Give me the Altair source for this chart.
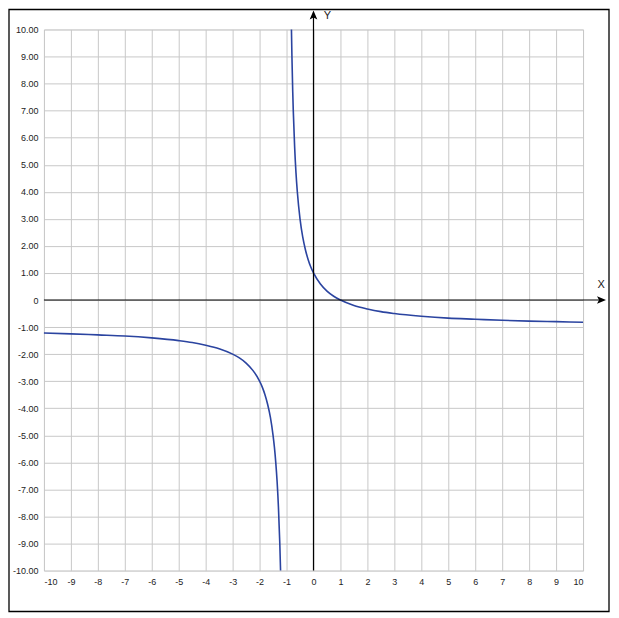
import altair as alt
import pandas as pd

# curve points (two branches around the asymptote x = -1)
left_x = [-10, -9, -8, -7, -6, -5, -4.5, -4, -3.5, -3, -2.75, -2.5, -2.25, -2,
          -1.9, -1.8, -1.7, -1.6, -1.5, -1.45, -1.4, -1.35, -1.3, -1.25, -1.222]
left_y = [-1.22, -1.25, -1.29, -1.33, -1.40, -1.50, -1.57, -1.67, -1.80, -2.00,
          -2.14, -2.33, -2.60, -3.00, -3.22, -3.50, -3.86, -4.33, -5.00, -5.44,
          -6.00, -6.71, -7.67, -9.00, -10.0]
right_x = [-0.818, -0.8, -0.77, -0.75, -0.7, -0.65, -0.6, -0.5, -0.4, -0.3, -0.2,
           -0.1, 0, 0.25, 0.5, 0.75, 1, 1.5, 2, 2.5, 3, 4, 5, 6, 7, 8, 9, 10]
right_y = [10.0, 9.00, 7.70, 7.00, 5.67, 4.71, 4.00, 3.00, 2.33, 1.86, 1.50,
           1.22, 1.00, 0.60, 0.33, 0.14, 0.00, -0.20, -0.33, -0.43, -0.50,
           -0.60, -0.67, -0.71, -0.75, -0.78, -0.80, -0.82]

tick_values = list(range(-10, 11))

curve = pd.DataFrame({
    "x": left_x + right_x,
    "y": left_y + right_y,
    "branch": ["left"] * len(left_x) + ["right"] * len(right_x),
    "order": list(range(len(left_x))) + list(range(len(right_x))),
})

W, H = 540, 542
xs = alt.Scale(domain=[-10, 10], nice=False, zero=False)
ys = alt.Scale(domain=[-10, 10], nice=False, zero=False)

lab = dict(labelFont="Liberation Sans", labelFontSize=9, labelColor="#222222",
           ticks=False, domain=False, grid=True, gridColor="#c8c8c8",
           gridWidth=1, title=None, tickCount=25, labelOverlap=False)

base = alt.Chart(curve)

line = base.mark_line(color="#2b44a0", strokeWidth=1.6, interpolate="monotone").encode(
    x=alt.X("x:Q", scale=xs, axis=alt.Axis(values=tick_values, labelPadding=7,
        labelExpr="toString(datum.value)", **lab)),
    y=alt.Y("y:Q", scale=ys, axis=alt.Axis(values=tick_values, labelPadding=6,
        labelExpr="datum.value == 0 ? '0' : (datum.value < 0 ? '-' : '') + format(abs(datum.value), '.2f')",
        **lab)),
    detail="branch:N",
    order="order:Q",
)

one = alt.Chart(pd.DataFrame({"a": [0]}))

x_axis_line = one.mark_rule(color="black", strokeWidth=1.2).encode(
    x=alt.datum(-10, scale=xs), x2=alt.datum(10.72), y=alt.datum(0, scale=ys))
y_axis_line = one.mark_rule(color="black", strokeWidth=1.2).encode(
    x=alt.datum(0, scale=xs), y=alt.datum(-10, scale=ys), y2=alt.datum(10.6))

arrow_up = one.mark_point(shape="M0,-1L0.85,1L0,0.55L-0.85,1Z", size=81,
                          filled=True, color="black", opacity=1).encode(
    x=alt.datum(0, scale=xs), y=alt.datum(10.535, scale=ys))
arrow_right = one.mark_point(shape="M1,0L-1,-0.85L-0.55,0L-1,0.85Z", size=81,
                             filled=True, color="black", opacity=1).encode(
    x=alt.datum(10.685, scale=xs), y=alt.datum(0, scale=ys))

y_label = one.mark_text(text="Y", font="Liberation Sans", fontSize=11,
                        color="#222222", baseline="bottom").encode(
    x=alt.datum(0.52, scale=xs), y=alt.datum(10.32, scale=ys))
x_label = one.mark_text(text="X", font="Liberation Sans", fontSize=11,
                        color="#222222").encode(
    x=alt.datum(10.67, scale=xs), y=alt.datum(0.56, scale=ys))

border = one.mark_rect(filled=False, stroke="black", strokeWidth=1.3).encode(
    x=alt.value(-35), x2=alt.value(566), y=alt.value(-20), y2=alt.value(583))

chart = alt.layer(line, x_axis_line, y_axis_line, arrow_up, arrow_right,
                  y_label, x_label, border).properties(
    width=W, height=H,
    autosize=alt.AutoSizeParams(type="none"),
    padding={"left": 36, "top": 21, "right": 28, "bottom": 43},
).configure_view(stroke=None).configure(background="white")

chart.save("out.html", embed_options={"renderer": "svg", "actions": False})
